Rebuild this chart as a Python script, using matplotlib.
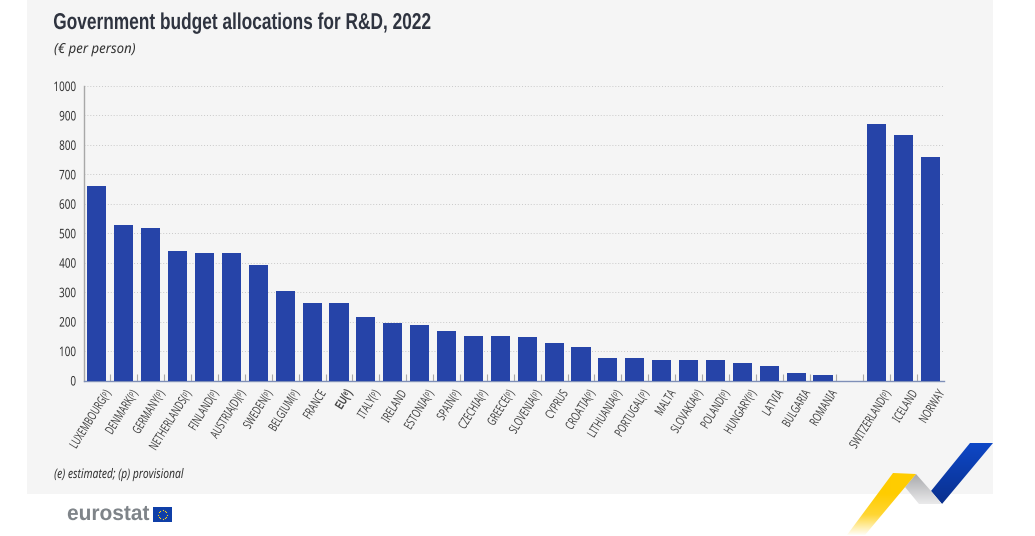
import numpy as np
import matplotlib
matplotlib.use("Agg")
import matplotlib.pyplot as plt
from matplotlib.patches import Polygon, Rectangle
from matplotlib.colors import LinearSegmentedColormap
from matplotlib.patheffects import AbstractPathEffect
from matplotlib.transforms import Affine2D

plt.rcParams["font.family"] = ["Noto Sans", "DejaVu Sans"]

countries = ["LUXEMBOURG(ᵖ)", "DENMARK(ᵖ)", "GERMANY(ᵖ)", "NETHERLANDS(ᵖ)", "FINLAND(ᵖ)",
             "AUSTRIA(D)(ᵖ)", "SWEDEN(ᵖ)", "BELGIUM(ᵖ)", "FRANCE", "EU(ᵉ)", "ITALY(ᵖ)",
             "IRELAND", "ESTONIA(ᵖ)", "SPAIN(ᵖ)", "CZECHIA(ᵖ)", "GREECE(ᵖ)", "SLOVENIA(ᵖ)",
             "CYPRUS", "CROATIA(ᵖ)", "LITHUANIA(ᵖ)", "PORTUGAL(ᵖ)", "MALTA", "SLOVAKIA(ᵖ)",
             "POLAND(ᵖ)", "HUNGARY(ᵖ)", "LATVIA", "BULGARIA", "ROMANIA", "",
             "SWITZERLAND(ᵖ)", "ICELAND", "NORWAY"]
values = [662, 529, 517, 440, 434, 433, 391, 305, 263, 262, 214, 196, 189, 167, 152, 151,
          148, 127, 113, 77, 75, 70, 69, 68, 61, 50, 27, 17, 0, 872, 832, 759]
y_ticks = [0, 100, 200, 300, 400, 500, 600, 700, 800, 900, 1000]
title = "Government budget allocations for R&D, 2022"
subtitle = "(€ per person)"
footnote = "(e) estimated; (p) provisional"


class Condense(AbstractPathEffect):
    """Draw real text narrower, as the reference uses a condensed face."""

    def __init__(self, sx, anchor="left", offset=(0, 0)):
        super().__init__()
        self.sx, self.anchor, self.off = sx, anchor, offset

    def draw_path(self, renderer, gc, tpath, affine, rgbFace=None):
        ext = tpath.get_extents()
        pivot = ext.x1 if self.anchor == "right" else ext.x0
        t = Affine2D().translate(-pivot, 0).scale(self.sx, 1).translate(pivot, 0)
        renderer.draw_path(gc, tpath, t + affine + Affine2D().translate(*self.off), rgbFace)


W, H = 1035, 536
fig = plt.figure(figsize=(W / 100, H / 100), dpi=100, facecolor="white")

bg = fig.add_axes([0, 0, 1, 1], zorder=0)
bg.set_xlim(0, W); bg.set_ylim(H, 0); bg.axis("off")
bg.add_patch(Rectangle((27, 0), 966, 494, fc="#f5f5f5", ec="none"))


def ribbon(pts, colors, extent):
    cmap = LinearSegmentedColormap.from_list("r", colors)
    g = np.linspace(0, 1, 128)[:, None]
    im = bg.imshow(g, cmap=cmap, extent=extent, aspect="auto", zorder=1, interpolation="bilinear")
    p = Polygon(pts, closed=True, fc="none", ec="none", transform=bg.transData)
    bg.add_patch(p)
    im.set_clip_path(p)


ribbon([(970, 443), (993, 443), (942, 504), (931, 491)], ["#0e48c8", "#0a2f8c"], (925, 995, 506, 441))
ribbon([(916, 474), (931, 491), (942, 504), (919, 504), (905, 487)], ["#a4a5a8", "#efeff0"], (903, 945, 506, 472))
ribbon([(893, 473), (916, 474), (865, 535), (847, 535)],
       ["#ffcc00", "#ffcc00", "#ffd633", "#ffffff"], (845, 918, 536, 472))
bg.set_xlim(0, W); bg.set_ylim(H, 0)

bg.text(67, 514.5, "eurostat", fontsize=15.5, fontweight="bold", family="Liberation Sans",
        color="#7f8489", va="center", ha="left", path_effects=[Condense(0.97)])
bg.add_patch(Rectangle((153, 507), 19, 15, fc="#0f3fa8", ec="none", zorder=2))
th = np.linspace(0, 2 * np.pi, 12, endpoint=False)
bg.scatter(162.5 + 4.3 * np.cos(th), 514.5 + 4.3 * np.sin(th), s=0.8, c="#ffd617", lw=0, zorder=3)

bg.text(53, 22.5, title, fontsize=16.5, fontweight="bold", family="Liberation Sans", color="#2f3440",
        va="center", ha="left", path_effects=[Condense(0.755)])
bg.text(54, 49.5, subtitle, fontsize=10, style="italic", color="#333333", va="center", ha="left",
        path_effects=[Condense(0.95)])
bg.text(54, 474.5, footnote, fontsize=9.5, style="italic", color="#333333", va="center", ha="left",
        path_effects=[Condense(0.78)])

ax = fig.add_axes([83.5 / W, 1 - 380.5 / H, 860.5 / W, 294.5 / H], zorder=2)
ax.patch.set_alpha(0)
x = np.arange(len(countries))
ax.bar(x, values, width=0.71, color="#2644a8", zorder=3)
ax.set_xlim(-0.5, len(countries) - 0.5)
ax.set_ylim(0, 1000)
ax.set_yticks(y_ticks)
ax.yaxis.grid(True, color="#c9c9c9", lw=0.7, ls=(0, (1, 2)), zorder=0)
ax.set_axisbelow(True)
ax.tick_params(axis="y", length=0, pad=6, labelsize=9.5, labelcolor="#333333")
for lab in ax.get_yticklabels():
    lab.set_path_effects([Condense(0.75, "right", offset=(1, 0))])
for s in ("top", "right"):
    ax.spines[s].set_visible(False)
ax.spines["left"].set_color("#a8a8a8")
ax.spines["left"].set_linewidth(1)
ax.spines["bottom"].set_color("#7f8fb8")
ax.spines["bottom"].set_linewidth(1)
ax.set_xticks(x)
ax.set_xticklabels(countries, rotation=58, ha="right", va="top", rotation_mode="anchor",
                   fontsize=9, color="#444444")
ax.tick_params(axis="x", length=0, pad=5)
for lab in ax.get_xticklabels():
    lab.set_path_effects([Condense(0.68, "right", offset=(6, 0))])
eu = ax.get_xticklabels()[countries.index("EU(ᵉ)")]
eu.set_family(["Liberation Sans", "DejaVu Sans"])
eu.set_fontweight("bold")
ax.set_xticks(x[:-1] + 0.5, minor=True)
ax.tick_params(axis="x", which="minor", direction="in", length=5, width=0.8, color="#a8a8a8")
fig.savefig("out.png", dpi=100, facecolor="white")
